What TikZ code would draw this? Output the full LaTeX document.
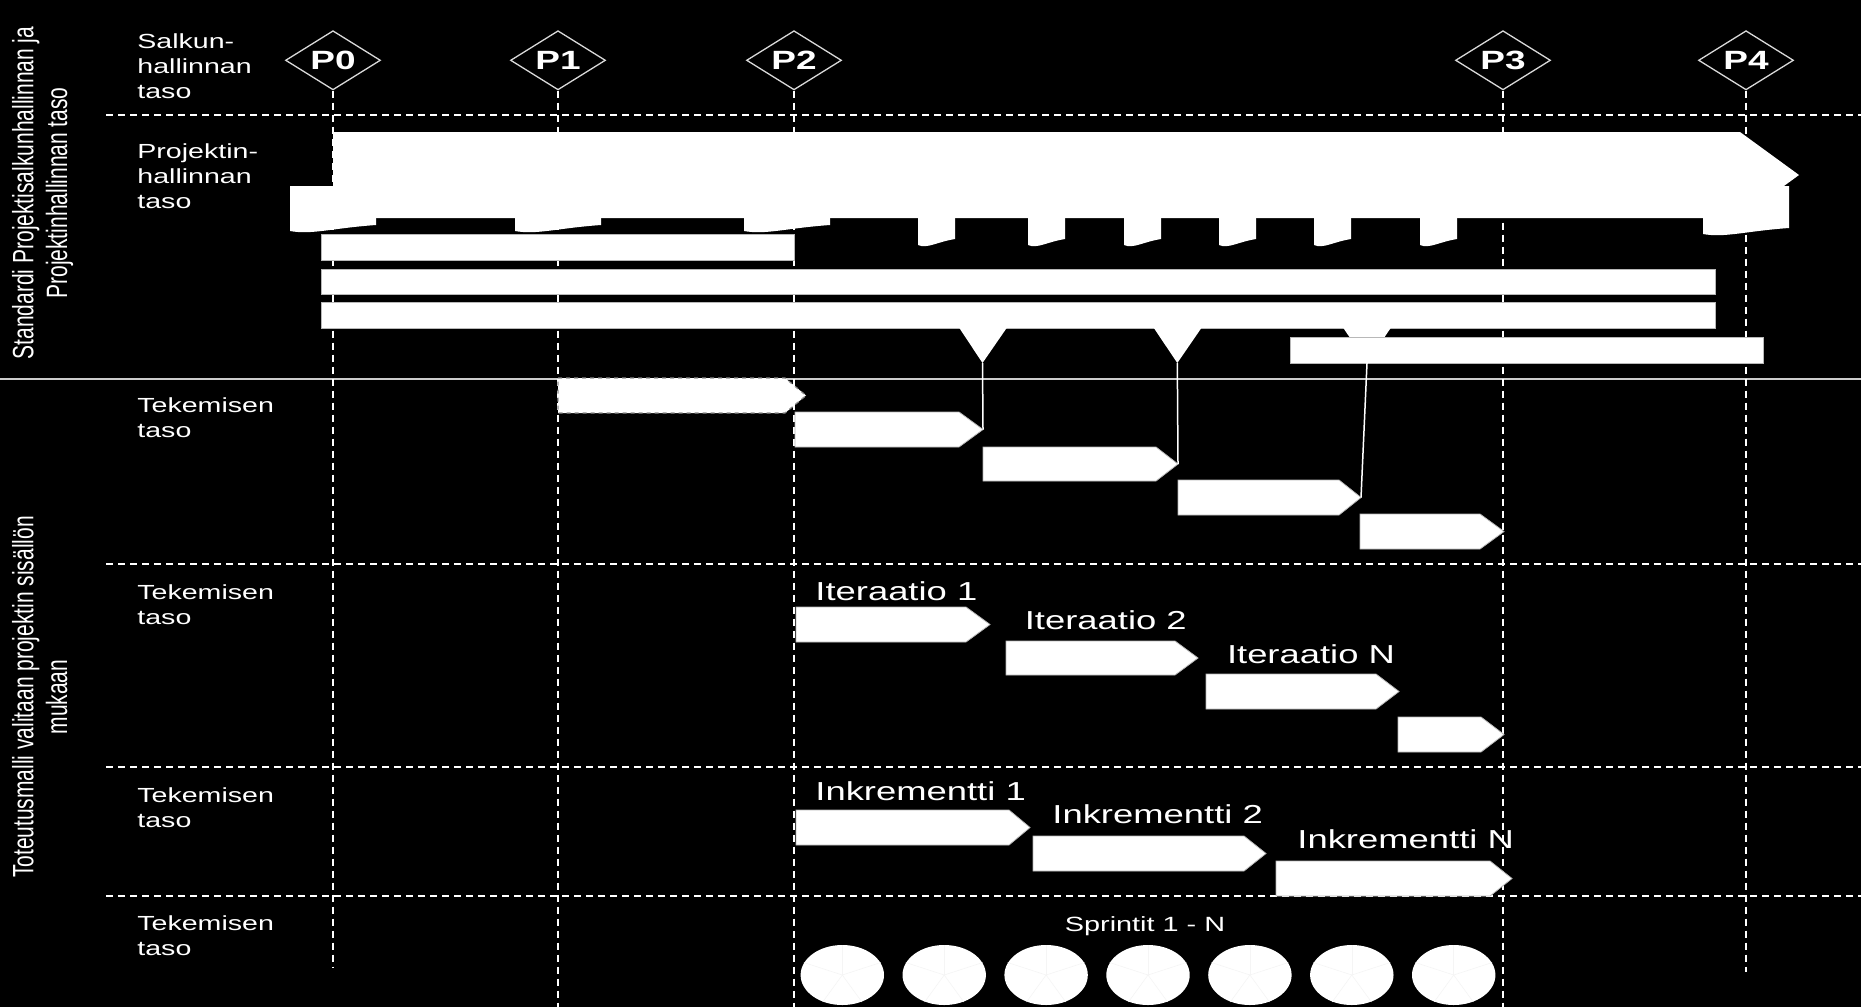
\documentclass[tikz,border=0pt]{standalone}
\usepackage{fontspec}
\setmainfont{Liberation Sans}
\usepackage{graphicx}
\usetikzlibrary{shapes.geometric}
\newcommand\wtxt[1]{\scalebox{1.4}[1]{#1}}
\newcommand\garrow[6]{\path[#1] (#2,#3) -- ({#4-#6},#3) -- (#4,{(#3+#5)/2}) -- ({#4-#6},#5) -- (#2,#5) -- cycle;}
\newcommand\docshp[4]{\fill[white] (#1,#3) -- (#1,#4) .. controls ({#1+0.25*(#2-#1)},{#4+4}) and ({#1+0.5*(#2-#1)},{#4-3}) .. (#2,{#4-6}) -- (#2,#3) -- cycle;}
\tikzset{
 gridd/.style={draw=white, line width=1pt, dash pattern=on 3.6pt off 2.4pt},
 sepline/.style={draw=white!80!black, line width=0.7pt},
 msnode/.style={shape=diamond, aspect=1.6, draw=white!85!black, line width=0.65pt, fill=black, text=white, inner sep=0pt, minimum width=47.5pt, minimum height=29.6pt, font=\fontsize{13.2}{14}\selectfont\bfseries},
 barw/.style={fill=white, draw=white!72!black, line width=0.4pt},
 arrw/.style={fill=white, draw=white!72!black, line width=0.4pt},
 arrdash/.style={fill=white, draw=white!55!black, line width=0.6pt, dash pattern=on 2pt off 2pt},
 link/.style={draw=white, line width=0.75pt},
 lvl/.style={text=white, anchor=base west, inner sep=0pt, font=\fontsize{10.2}{12.5}\selectfont},
 biglbl/.style={text=white, anchor=base west, inner sep=0pt, font=\fontsize{13}{15}\selectfont},
 rotlbl/.style={text=white, inner sep=0pt, font=\fontsize{10.5}{12.1}\selectfont},
 sprint/.style={shape=ellipse, fill=white, draw=none, minimum width=41.7pt, minimum height=30pt, inner sep=0pt},
 spoke/.style={draw=black!4, line width=0.3pt},
}
\begin{document}
\begin{tikzpicture}[x=0.5pt,y=-0.5pt]
\fill[black] (0,0) rectangle (1861,1007);
\useasboundingbox (0,0) rectangle (1861,1007);
% grid
\foreach \yy in {115,564,767,896} {\draw[gridd] (106,\yy) -- (1861,\yy);}
\draw[sepline] (0,379) -- (1861,379);
\foreach \n/\xx/\yend in {0/333/967,1/558/1007,2/794/1007,3/1503/1007,4/1746/972} {
  \node[msnode] (P\n) at (\xx,60.3) {\wtxt{P\n}};
  \coordinate (E\n) at (\xx,\yend);
  \draw[gridd] (P\n.south) -- (E\n);
}
% project management block
\fill[white] (333,132) -- (1740,132) -- (1799,175) -- (1740,218) -- (333,218) -- cycle;
\docshp{290}{376}{186}{231}
\docshp{515}{601}{186}{231}
\docshp{744}{830}{186}{231}
\docshp{1703}{1789}{186}{234}
\foreach \xa [evaluate=\xa as \xb using \xa+37] in {918,1028,1124,1219,1314,1420} {\docshp{\xa}{\xb}{210}{245}}
% bars
\path[barw] (321,234) rectangle (794,260);
\path[barw] (321,269) rectangle (1715,294);
\path[barw] (321,302) rectangle (1715,328);
\fill[white] (959,327.5) -- (1007,327.5) -- (982.5,363) -- cycle;
\fill[white] (1153.5,327.5) -- (1201.7,327.5) -- (1177.3,363) -- cycle;
\fill[white] (1343,327.5) -- (1391,327.5) -- (1367,363) -- cycle;
\path[barw] (1290,337) rectangle (1763,363);
\coordinate (v1) at (982.5,363);
\coordinate (v2) at (1177.3,363);
\coordinate (v3) at (1367,363);
% level 1 arrows
\garrow{arrdash}{558}{378}{806}{413}{21}
\garrow{arrw}{795}{412}{983}{447}{24}
\garrow{arrw}{983}{447}{1178}{481}{22}
\garrow{arrw}{1178}{480}{1361}{515}{22}
\garrow{arrw}{1360}{514}{1504}{549}{24}
\coordinate (tB) at (983,429.5);
\coordinate (tC) at (1178,464);
\coordinate (tD) at (1361,497.5);
\draw[link] (v1) -- (tB);
\draw[link] (v2) -- (tC);
\draw[link] (v3) -- (tD);
% iterations
\garrow{arrw}{796}{607}{990}{642}{24}
\garrow{arrw}{1006}{641}{1198}{675}{23}
\garrow{arrw}{1206}{674}{1399}{709}{23}
\garrow{arrw}{1398}{717}{1504}{752}{23}
% increments
\garrow{arrw}{796}{810}{1030}{845}{21}
\garrow{arrw}{1033}{836}{1266}{871}{22}
\garrow{arrw}{1276}{861}{1512}{896}{22}
% sprints
\foreach \k in {0,...,6} {
  \node[sprint] (s\k) at ({842.3+101.9*\k},975) {};
  \foreach \a in {18,90,162,234,306} {\draw[spoke] (s\k.center) -- (s\k.\a);}
}
% texts
\node[rotlbl] (vtop) at (43.5,193) {\wtxt{\rotatebox{90}{\begin{tabular}{@{}c@{}}Standardi Projektisalkunhallinnan ja\\Projektinhallinnan taso\end{tabular}}}};
\node[rotlbl] (vbot) at (43.5,697) {\wtxt{\rotatebox{90}{\begin{tabular}{@{}c@{}}Toteutusmalli valitaan projektin sisällön\\mukaan\end{tabular}}}};
\node[lvl] (lsalkun) at (137,48) {\wtxt{\begin{tabular}[t]{@{}l@{}}Salkun-\\hallinnan\\taso\end{tabular}}};
\node[lvl] (lproj) at (137,158) {\wtxt{\begin{tabular}[t]{@{}l@{}}Projektin-\\hallinnan\\taso\end{tabular}}};
\node[lvl] (ltek1) at (137,412.7) {\wtxt{\begin{tabular}[t]{@{}l@{}}Tekemisen\\taso\end{tabular}}};
\node[lvl] (ltek2) at (137,599.3) {\wtxt{\begin{tabular}[t]{@{}l@{}}Tekemisen\\taso\end{tabular}}};
\node[lvl] (ltek3) at (137,802.7) {\wtxt{\begin{tabular}[t]{@{}l@{}}Tekemisen\\taso\end{tabular}}};
\node[lvl] (ltek4) at (137,930) {\wtxt{\begin{tabular}[t]{@{}l@{}}Tekemisen\\taso\end{tabular}}};
\node[biglbl] (it1) at (815,600.7) {\wtxt{Iteraatio 1}};
\node[biglbl] (it2) at (1024.4,629) {\wtxt{Iteraatio 2}};
\node[biglbl] (itn) at (1226.6,663) {\wtxt{Iteraatio N}};
\node[biglbl] (in1) at (815,800) {\wtxt{Inkrementti 1}};
\node[biglbl] (in2) at (1052,823) {\wtxt{Inkrementti 2}};
\node[biglbl] (inn) at (1297,848) {\wtxt{Inkrementti N}};
\node[text=white, anchor=base, inner sep=0pt, font=\fontsize{10.3}{12}\selectfont] (spr) at (1145,931) {\wtxt{Sprintit 1 - N}};
\end{tikzpicture}
\end{document}
